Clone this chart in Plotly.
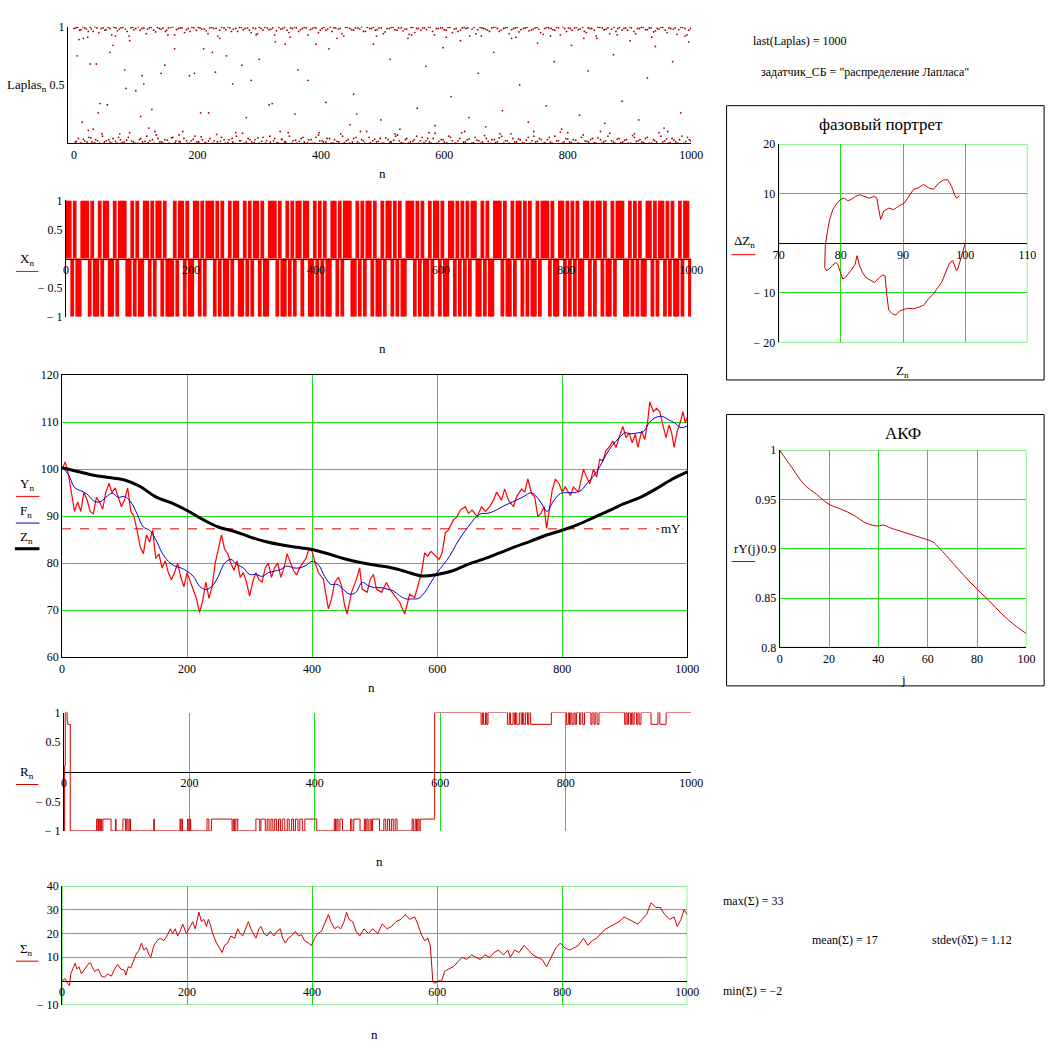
import plotly.graph_objects as go

W, H = 1062, 1055

laplas_top = [(3, .99), (9, .97), (14, 1.0), (20, .98), (26, .995), (31, .96), (37, .99), (44, .985), (50, .97), (55, .995),
              (61, .93), (68, .99), (73, .98), (79, .995), (86, .96), (92, .99), (97, .975), (104, 1.0), (110, .985), (117, .94),
              (122, .99), (129, .97), (135, .995), (141, .98), (148, .96), (153, .99), (160, 1.0), (166, .975), (172, .99), (179, .95),
              (185, .985), (191, .995), (198, .97), (204, .99), (211, .98), (217, .94), (223, .995), (230, .985), (236, .97), (243, .99),
              (249, 1.0), (255, .96), (262, .985), (268, .995), (274, .975), (281, .99), (287, .95), (294, .985), (300, .995), (306, .97),
              (313, .99), (319, .98), (325, .93), (332, .995), (338, .985), (345, .97), (351, .99), (357, 1.0), (364, .96), (370, .985),
              (376, .99), (383, .975), (389, .995), (396, .95), (402, .985), (408, .97), (415, .995), (421, .99), (428, .98), (434, .94),
              (440, .995), (447, .985), (453, .97), (460, .99), (466, 1.0), (472, .96), (479, .985), (485, .995), (491, .975), (498, .99),
              (504, .955), (511, .985), (517, .995), (523, .97), (530, .99), (536, .98), (543, .935), (549, .995), (555, .985), (562, .97),
              (568, .99), (574, 1.0), (581, .96), (587, .985), (594, .99), (600, .975), (606, .995), (613, .95), (619, .985), (626, .97),
              (632, .995), (638, .99), (645, .98), (651, .94), (658, .995), (664, .985), (670, .97), (677, .99), (683, 1.0), (689, .96),
              (696, .985), (702, .995), (709, .975), (715, .99), (721, .955), (728, .985), (734, .995), (741, .97), (747, .99), (753, .98),
              (760, .935), (766, .995), (773, .985), (779, .97), (785, .99), (792, 1.0), (798, .96), (804, .985), (811, .99), (817, .975),
              (824, .995), (830, .95), (836, .985), (843, .97), (849, .995), (856, .99), (862, .98), (868, .94), (875, .995), (881, .985),
              (888, .97), (894, .99), (900, 1.0), (907, .96), (913, .985), (919, .995), (926, .975), (932, .99), (939, .955), (945, .985),
              (951, .995), (958, .97), (964, .99), (971, .98), (977, .935), (983, .995), (990, .985), (996, .97)]
laplas_top2 = [(0, .985), (6, .995), (11, .975), (17, .99), (23, .96), (28, .98), (34, 1.0), (40, .95), (47, .99), (52, .975),
               (58, .985), (65, .995), (70, .965), (76, .99), (83, .98), (89, .92), (95, .995), (100, .985), (107, .97), (113, .99),
               (119, .98), (125, .995), (132, .955), (138, .985), (144, .99), (150, .97), (157, .995), (163, .93), (169, .985), (175, .99),
               (182, .975), (188, .96), (194, .99), (201, .995), (207, .98), (214, .965), (220, .99), (226, .985), (233, .92), (239, .995),
               (246, .975), (252, .99), (258, .98), (265, .96), (271, .995), (277, .985), (284, .97), (290, .99), (297, .94), (303, .985),
               (309, .995), (316, .975), (322, .99), (328, .965), (335, .98), (341, .995), (348, .95), (354, .985), (360, .99), (367, .975),
               (373, .995), (379, .93), (386, .985), (392, .99), (399, .97), (405, .995), (411, .98), (418, .96), (424, .99), (431, .985),
               (437, .92), (443, .995), (450, .975), (456, .99), (463, .98), (469, .96), (475, .995), (482, .985), (488, .97), (494, .99),
               (501, .94), (507, .985), (514, .995), (520, .975), (526, .99), (533, .965), (539, .98), (546, .995), (552, .95), (558, .985),
               (565, .99), (571, .975), (577, .995), (584, .93), (590, .985), (597, .99), (603, .97), (609, .995), (616, .98), (622, .96),
               (629, .99), (635, .985), (641, .92), (648, .995), (654, .975), (661, .99), (667, .98), (673, .96), (680, .995), (686, .985),
               (692, .97), (699, .99), (705, .94), (712, .985), (718, .995), (724, .975), (731, .99), (737, .965), (744, .98), (750, .995),
               (756, .95), (763, .985), (769, .99), (776, .975), (782, .995), (788, .93), (795, .985), (801, .99), (807, .97), (814, .995),
               (820, .98), (827, .96), (833, .99), (839, .985), (846, .92), (852, .995), (859, .975), (865, .99), (871, .98), (878, .96),
               (884, .995), (891, .985), (897, .97), (903, .99), (910, .94), (916, .985), (922, .995), (929, .975), (935, .99), (942, .965),
               (948, .98), (954, .995), (961, .95), (967, .985), (974, .99), (980, .975), (986, .995), (993, .93), (999, .985)]
laplas_bottom = [(2, .01), (7, .04), (12, .0), (17, .02), (24, .05), (29, .01), (35, .03), (41, .0), (46, .06), (52, .02),
                 (58, .01), (63, .04), (70, .0), (75, .03), (81, .01), (88, .05), (93, .02), (99, .0), (106, .03), (111, .01),
                 (118, .06), (123, .02), (130, .0), (136, .04), (142, .01), (147, .03), (154, .0), (160, .05), (165, .02), (172, .01),
                 (178, .04), (184, .0), (190, .02), (196, .06), (202, .01), (208, .03), (214, .0), (220, .04), (227, .02), (232, .01),
                 (239, .05), (245, .0), (251, .03), (257, .01), (263, .06), (270, .02), (275, .0), (282, .04), (288, .01), (293, .03),
                 (300, .0), (306, .05), (312, .02), (318, .01), (325, .04), (331, .0), (337, .03), (343, .01), (349, .06), (355, .02),
                 (361, .0), (368, .04), (373, .01), (380, .03), (386, .0), (392, .05), (398, .02), (404, .01), (410, .04), (417, .0),
                 (422, .03), (429, .01), (435, .06), (441, .02), (447, .0), (453, .04), (459, .01), (466, .03), (471, .0), (478, .05),
                 (484, .02), (490, .01), (496, .04), (502, .0), (509, .03), (514, .01), (521, .06), (527, .02), (533, .0), (539, .04),
                 (545, .01), (551, .03), (558, .0), (564, .05), (570, .02), (576, .01), (582, .04), (588, .0), (595, .03), (600, .01),
                 (607, .06), (613, .02), (619, .0), (625, .04), (631, .01), (637, .03), (644, .0), (650, .05), (656, .02), (662, .01),
                 (668, .04), (674, .0), (681, .03), (686, .01), (693, .06), (699, .02), (705, .0), (711, .04), (717, .01), (723, .03),
                 (730, .0), (736, .05), (742, .02), (748, .01), (754, .04), (760, .0), (767, .03), (772, .01), (779, .06), (785, .02),
                 (791, .0), (797, .04), (803, .01), (809, .03), (816, .0), (822, .05), (828, .02), (834, .01), (840, .04), (846, .0),
                 (853, .03), (858, .01), (865, .06), (871, .02), (877, .0), (883, .04), (889, .01), (895, .03), (902, .0), (908, .05),
                 (914, .02), (920, .01), (926, .04), (932, .0), (939, .03), (944, .01), (951, .06), (957, .02), (963, .0), (969, .04),
                 (975, .01), (981, .03), (988, .0), (994, .05), (999, .02)]
laplas_bottom2 = [(4, .015), (10, .0), (15, .035), (21, .01), (27, .045), (33, .005), (38, .02), (45, .08), (49, .01), (56, .03),
                  (61, .0), (67, .015), (72, .05), (78, .005), (85, .025), (90, .09), (96, .01), (103, .0), (108, .04), (115, .015),
                  (120, .005), (127, .03), (133, .07), (139, .01), (145, .0), (151, .025), (158, .045), (164, .005), (170, .015), (176, .1),
                  (182, .02), (187, .0), (193, .035), (199, .01), (206, .055), (212, .005), (218, .02), (225, .0), (231, .075), (237, .015),
                  (243, .03), (249, .005), (256, .04), (261, .0), (268, .02), (273, .085), (279, .01), (285, .03), (292, .005), (298, .045),
                  (304, .015), (310, .0), (317, .06), (323, .02), (329, .005), (336, .035), (341, .01), (347, .09), (353, .0), (359, .025),
                  (365, .015), (371, .05), (378, .005), (384, .03), (390, .0), (396, .07), (402, .02), (408, .01), (414, .04), (420, .0),
                  (426, .015), (432, .08), (438, .005), (444, .03), (451, .01), (457, .05), (462, .0), (469, .02), (474, .1), (480, .005),
                  (487, .035), (493, .015), (499, .0), (505, .045), (512, .01), (518, .025), (524, .07), (530, .005), (537, .03), (542, .0),
                  (549, .015), (555, .06), (561, .02), (567, .005), (573, .04), (579, .0), (585, .085), (591, .015), (598, .03), (604, .005),
                  (610, .05), (617, .0), (622, .02), (628, .09), (634, .01), (640, .035), (647, .005), (653, .025), (659, .0), (665, .065),
                  (671, .015), (677, .03), (683, .005), (689, .045), (696, .0), (702, .02), (708, .08), (714, .01), (720, .035), (727, .005),
                  (733, .025), (739, .0), (745, .06), (751, .015), (757, .03), (763, .005), (770, .05), (775, .0), (782, .02), (788, .095),
                  (794, .01), (800, .035), (806, .005), (813, .025), (818, .0), (825, .07), (831, .015), (837, .03), (843, .005), (849, .045),
                  (855, .0), (861, .02), (868, .085), (874, .01), (880, .035), (886, .005), (892, .025), (898, .0), (905, .065), (911, .015),
                  (917, .03), (923, .005), (929, .05), (936, .0), (941, .02), (948, .09), (954, .01), (960, .035), (966, .005), (972, .025),
                  (978, .0), (985, .06), (991, .015), (997, .03)]
laplas_mid = [(5, .75), (8, .89), (13, .18), (22, .91), (23, .11), (26, .68), (36, .68), (39, .26), (42, .34), (54, .33),
              (58, .78), (63, .84), (82, .63), (84, .47), (100, .45), (108, .23), (110, .58), (113, .51), (121, .13), (126, .29),
              (141, .60), (147, .67), (163, .81), (187, .58), (195, .60), (205, .26), (210, .81), (218, .26), (224, .78), (229, .61),
              (247, .75), (257, .51), (272, .67), (279, .22), (287, .54), (300, .72), (316, .33), (321, .34), (326, .87), (342, .85),
              (358, .25), (363, .63), (379, .54), (392, .85), (408, .35), (413, .81), (447, .16), (453, .42), (458, .25), (485, .85),
              (497, .2), (512, .72), (528, .12), (541, .9), (556, .3), (570, .66), (585, .15), (598, .82), (611, .4), (626, .88),
              (640, .22), (655, .6), (667, .14), (680, .78), (694, .28), (709, .9), (722, .5), (736, .18), (751, .86), (765, .32),
              (778, .7), (790, .12), (806, .84), (819, .24), (833, .62), (847, .9), (860, .17), (874, .76), (888, .36), (901, .88),
              (915, .2), (929, .56), (942, .83), (956, .13), (970, .7), (983, .26), (996, .87), (15, .9), (31, .12), (67, .92),
              (74, .08), (90, .88), (131, .1), (152, .93), (170, .07), (236, .9), (262, .09), (295, .93), (334, .1), (350, .91),
              (397, .09), (426, .9), (464, .1), (490, .92), (520, .08), (547, .93), (575, .09), (603, .91), (633, .1), (660, .92),
              (690, .08), (716, .91), (745, .1), (772, .92), (800, .09), (826, .9), (853, .1), (880, .93), (908, .08), (936, .91),
              (962, .1), (990, .92)]

x_signs = ("++-+--+++-+--+-++--+-+++--+-+--++-+-++-+---+-++-+-"
           "-++-+-+++-+-+--+-++--+-+-++-+--+++-+--+-+-++-++--+"
           "-+-+--++-+-+++--+-+-++-+--+-++-+-+--+++-+-+--+-++-"
           "+--++-+-+-+-++--+-+--+++-+--+-++-+-+--+-+++-+--++-"
           "+-+-+--++-+-++-+--+-+++--+-+-+--++-+-++-+-+--+-++-")

y_series = [(0, 100), (5, 101.5), (10, 99), (15, 95), (20, 91), (25, 93), (30, 91), (35, 95), (40, 93.5), (45, 91),
            (50, 90.5), (55, 94), (60, 93), (65, 91.5), (70, 95), (75, 97), (80, 95), (85, 96), (90, 94), (95, 92),
            (100, 93.5), (105, 96), (110, 91), (115, 90), (120, 87), (125, 83.5), (130, 82), (135, 86), (140, 84.5), (145, 87),
            (150, 81), (155, 82), (160, 79), (165, 80.5), (170, 78), (175, 76.5), (180, 78), (185, 80), (190, 77), (195, 75),
            (200, 78), (205, 76), (210, 74.5), (215, 72.5), (220, 69.5), (225, 72), (230, 76), (235, 72.5), (240, 75), (245, 80),
            (250, 83), (255, 86), (260, 83), (265, 82), (270, 80), (275, 78.5), (280, 80.5), (285, 77), (290, 78), (295, 76),
            (300, 73), (305, 76), (310, 78), (315, 76.5), (320, 76), (325, 79), (330, 80), (335, 77), (340, 79), (345, 80),
            (350, 77), (355, 79), (360, 82), (365, 80), (370, 78.5), (375, 77.5), (380, 79), (385, 80), (390, 81), (395, 83),
            (400, 82.5), (405, 80), (410, 78), (418, 76.6), (426, 70.3), (431, 72.4), (436, 75.9), (442, 77), (447, 75.2), (452, 71),
            (456, 69.2), (463, 73.8), (471, 76.6), (476, 79), (480, 74.5), (488, 73.8), (493, 76.6), (498, 77.6), (503, 74.5), (511, 73.8),
            (519, 75.9), (524, 74.5), (532, 73), (540, 71.7), (548, 69.2), (556, 73.4), (564, 72.7), (569, 75.2), (575, 78), (580, 82.2),
            (585, 81.5), (590, 82.5), (598, 81.5), (603, 80.8), (608, 82.2), (613, 86.4), (618, 87.1), (626, 89.2), (632, 89.9), (637, 91.3),
            (645, 92), (650, 90.6), (656, 91.3), (664, 89.9), (671, 92), (677, 91), (684, 92), (690, 93.4), (695, 95.1), (703, 93.4),
            (708, 95.8), (714, 93.4), (722, 92), (727, 94.1), (735, 95.8), (740, 95.1), (745, 97.9), (751, 94.8), (756, 94.1), (761, 89.9),
            (766, 90.6), (771, 92), (775, 87.4), (779, 91.3), (784, 95.5), (789, 97.9), (795, 96.9), (800, 95.1), (805, 96.2), (813, 94.4),
            (818, 96.2), (826, 95.1), (834, 100), (839, 98.3), (844, 96.9), (850, 100), (855, 98.3), (860, 102.1), (865, 101.8), (870, 103.9),
            (876, 104.9), (881, 106), (886, 104.6), (891, 106.7), (897, 109.1), (902, 106.7), (907, 107.7), (912, 105.6), (917, 107.4), (921, 104.6),
            (927, 108.1), (932, 106.3), (937, 110.5), (940, 114.3), (946, 112.2), (951, 112.9), (956, 112.2), (961, 109.4), (966, 106.7), (971, 109.4),
            (975, 107.7), (979, 104.6), (984, 108.1), (990, 110.5), (993, 112.2), (997, 109.8), (1000, 111)]

f_series = [(0, 100.4), (10, 98.9), (20, 96.1), (30, 95.4), (40, 94.7), (50, 93.3), (60, 93), (70, 94), (80, 94.9), (90, 94),
            (100, 94.2), (110, 93), (120, 90.5), (130, 87.7), (140, 87), (150, 85), (160, 82.2), (170, 80.4), (180, 79.4), (190, 79),
            (200, 78.3), (210, 77.2), (220, 75.1), (230, 74.4), (240, 75.1), (250, 77.2), (260, 80), (270, 80.8), (280, 79.7), (290, 79),
            (300, 77.6), (310, 77.6), (320, 77.2), (330, 78), (340, 78.3), (350, 78.7), (360, 79.4), (370, 79), (380, 79), (390, 79.5),
            (400, 80.4), (410, 79.7), (420, 77.2), (430, 75.5), (440, 75.5), (450, 74.4), (460, 73.4), (470, 73.8), (480, 75.9), (490, 75.2),
            (500, 74.8), (510, 74.8), (520, 74.5), (530, 74.1), (540, 73.1), (550, 72.4), (560, 72.4), (570, 72.5), (580, 73.8), (590, 75.9),
            (600, 78), (610, 79.7), (620, 81.5), (630, 83.9), (640, 86), (650, 87.8), (660, 89.5), (670, 90.5), (680, 90.6), (690, 91),
            (700, 91.7), (710, 92.4), (720, 93), (730, 93.6), (740, 94.3), (750, 95), (760, 94), (770, 92), (776, 91), (785, 93),
            (797, 94.8), (810, 95), (820, 95), (830, 95.5), (840, 97), (850, 98.5), (860, 100.5), (870, 103), (880, 105), (890, 106.5),
            (900, 107.7), (910, 107.5), (920, 107.7), (930, 108), (940, 110), (950, 111), (960, 111.2), (970, 110.5), (980, 109.8), (990, 108.8),
            (1000, 109.2)]

z_series = [(0, 100.3), (25, 99.5), (50, 98.7), (75, 98.2), (100, 97.7), (125, 96.3), (150, 94.1), (175, 92.8), (200, 91.2), (225, 89.3),
            (250, 87.7), (275, 86.8), (300, 85.6), (325, 84.6), (350, 83.9), (375, 83.4), (400, 82.9), (425, 82), (450, 81), (475, 80.2),
            (500, 79.6), (525, 79.1), (550, 78.2), (575, 77.3), (600, 77.6), (625, 78.4), (650, 79.8), (675, 80.9), (700, 82.2), (725, 83.5),
            (750, 84.7), (775, 86), (800, 87), (825, 88.2), (850, 89.7), (875, 91.2), (900, 92.7), (925, 94), (950, 95.8), (975, 97.8),
            (1000, 99.4)]
mY = 87.3

r_steps = [(0, -1), (1, 0.1), (2, 1), (5, 0.85), (6, 0.8), (10, -1),
           (52, -0.8), (54, -1), (55, -0.8), (57, -1), (58, -0.8), (60, -1), (62, -0.8), (75, -1),
           (82, -0.8), (83, -1), (94, -0.8), (98, -1), (100, -0.8), (102, -1), (104, -0.8), (106, -1),
           (143, -0.8), (144, -1), (185, -0.8), (186, -1), (188, -0.8), (189, -1),
           (197, -0.8), (199, -1), (201, -0.8), (202, -1), (228, -0.8), (231, -1), (235, -0.8), (268, -1),
           (270, -0.8), (272, -1), (274, -0.8), (277, -1),
           (306, -0.8), (312, -1), (314, -0.8), (321, -1), (324, -0.8), (327, -1), (330, -0.8), (333, -1),
           (336, -0.8), (339, -1), (342, -0.8), (345, -1), (348, -0.8), (352, -1), (356, -0.8), (359, -1),
           (363, -0.8), (366, -1), (369, -0.8), (373, -1), (376, -0.8), (380, -1), (384, -0.8), (403, -1),
           (431, -0.8), (433, -1), (435, -0.8), (437, -1), (440, -0.8), (444, -1),
           (457, -0.8), (459, -1), (462, -0.8), (472, -1),
           (479, -0.8), (481, -1), (483, -0.8), (485, -1), (488, -0.8), (490, -1), (492, -0.8), (503, -1),
           (510, -0.8), (513, -1), (516, -0.8), (519, -1), (522, -0.8), (525, -1), (528, -0.8), (531, -1),
           (555, -0.8), (557, -1), (560, -0.8), (562, -1), (564, -0.8), (566, -1), (568, -0.8), (591, 1),
           (665, 0.8), (667, 1), (669, 0.8), (672, 1), (674, 0.8), (676, 1),
           (707, 0.8), (710, 1), (712, 0.8), (716, 1), (718, 0.8), (720, 1), (722, 0.8), (726, 1),
           (729, 0.8), (731, 1), (733, 0.8), (736, 1), (739, 0.8), (741, 1), (744, 0.8), (777, 1),
           (801, 0.8), (804, 1), (806, 0.8), (808, 1), (810, 0.8), (813, 1), (815, 0.8), (817, 1),
           (822, 0.8), (824, 1), (827, 0.8), (830, 1),
           (840, 0.8), (842, 1), (845, 0.8), (847, 1), (850, 0.8), (853, 1),
           (894, 0.8), (896, 1), (898, 0.8), (900, 1), (903, 0.8), (905, 1), (907, 0.8), (909, 1),
           (913, 0.8), (915, 1), (917, 0.8), (920, 1),
           (936, 0.8), (947, 1), (950, 0.8), (960, 1), (1000, 1)]

sigma = [(0, 0), (5, 1), (9, -1), (12, -2), (14, 3), (21, 7.5), (24, 5), (27, 6), (31, 3), (36, 5), (39, 6), (43, 7.5),
         (46, 7.5), (48, 6), (52, 4), (58, 5), (63, 2), (68, 1.5), (73, 3), (79, 2), (84, 5), (89, 7), (94, 5), (100, 4.5),
         (102, 2.5), (106, 6), (110, 5.5), (114, 8), (118, 11), (123, 13), (127, 16), (131, 13), (135, 14), (139, 11), (142, 10),
         (147, 15), (152, 17), (157, 18), (163, 17), (168, 19), (173, 22), (177, 20), (181, 22), (185, 19), (189, 21), (193, 24),
         (197, 21), (199, 20), (205, 23), (209, 25), (213, 22), (216, 26), (219, 29), (223, 25), (227, 26), (231, 23), (234, 26),
         (237, 24), (241, 20), (247, 16), (252, 14), (256, 12), (260, 15), (265, 16), (270, 19), (276, 18), (281, 22), (285, 20),
         (289, 19), (294, 22), (298, 25), (302, 22), (306, 20), (310, 18), (315, 22), (318, 23), (323, 20), (328, 19), (333, 21),
         (339, 19), (344, 21), (349, 22), (353, 18), (357, 16), (362, 18), (367, 19), (373, 21), (378, 19), (383, 19.5), (388, 17),
         (394, 16), (399, 15), (404, 18), (409, 20), (415, 21), (420, 24), (423, 26), (426, 28), (430, 25), (436, 22), (441, 23),
         (446, 22), (451, 25), (455, 29), (459, 26), (465, 25), (470, 21), (476, 19), (483, 22), (490, 20), (497, 22), (505, 20),
         (512, 24), (520, 22), (527, 23), (534, 25), (542, 26), (549, 28), (556, 26), (564, 27), (569, 24), (574, 20), (580, 17),
         (585, 18), (589, 15), (591, 5), (593, 0), (596, -1), (602, 0), (607, 0), (612, 4), (618, 5), (626, 6), (633, 8), (640, 10),
         (647, 9), (655, 11), (662, 10), (669, 9), (676, 11), (684, 10), (691, 12), (698, 13), (706, 11), (713, 13), (717, 10),
         (724, 13), (731, 12), (739, 15), (746, 13), (753, 11), (760, 10), (768, 9), (775, 6), (782, 10), (790, 14), (797, 16),
         (804, 14), (812, 13), (819, 14), (826, 15), (834, 18), (841, 15), (848, 17), (855, 18), (862, 20), (870, 22), (877, 23),
         (884, 24), (891, 25), (899, 27), (906, 26), (913, 25), (921, 24), (928, 26), (935, 28), (942, 33), (950, 31), (957, 31),
         (964, 28), (972, 26), (979, 27), (984, 23), (990, 26), (995, 30), (1000, 28)]

phase = [(100, 0), (99.6, -1.9), (99.3, -3.2), (98.8, -5.2), (98.6, -5.5), (98.3, -4.5), (98, -3.5), (97.5, -3.9), (97.1, -5.2),
         (96.7, -6.5), (96.2, -7.9), (95.6, -8.9), (94.9, -10.2), (94.1, -11.2), (93.3, -12.5), (92.5, -12.9), (91.7, -13.2),
         (90.9, -13.1), (90.2, -13.3), (89.4, -13.7), (88.8, -14.5), (88.3, -14.2), (87.7, -13.5), (87.4, -10.5), (87.1, -6.5),
         (86.7, -6.4), (86.2, -6.9), (85.4, -7.9), (84.8, -7.5), (84.0, -6.9), (83.5, -5.9), (83, -4.5), (82.6, -2.5), (82.3, -4.2),
         (81.8, -5.2), (81.3, -5.9), (80.7, -6.9), (80.3, -7.2), (80, -5.9), (79.5, -4.2), (79.2, -3.9), (78.6, -4.5), (78.1, -5.2),
         (77.7, -5.5), (77.4, -4.9), (77.5, -0.5), (77.8, 2.1), (78.2, 4.8), (78.7, 6.8), (79.4, 8.1), (80, 8.9), (80.6, 9.1),
         (81.1, 8.6), (81.6, 8.8), (82.4, 9.5), (83, 9.8), (83.7, 9.5), (84.6, 9.1), (85.3, 9.5), (85.8, 9.1), (86, 7.5), (86.4, 4.8),
         (86.9, 6.5), (87.7, 7.1), (88.5, 6.8), (89.3, 7.5), (90.2, 8.1), (90.9, 9.5), (91.7, 10.9), (92.5, 11.2), (93.3, 11.9),
         (94.1, 11.2), (94.9, 10.9), (95.7, 12.1), (96.5, 12.8), (97.2, 12.8), (97.8, 11.5), (98.3, 9.8), (98.6, 9.1), (99.1, 9.6)]

acf_j = [0, 5, 10, 15, 20, 25, 30, 35, 40, 42, 45, 50, 55, 60, 62, 65, 70, 75, 80, 85, 90, 95, 100]
acf_r = [1.0, 0.982, 0.965, 0.955, 0.945, 0.940, 0.934, 0.926, 0.923, 0.924, 0.921, 0.917, 0.913, 0.909, 0.907, 0.900,
         0.886, 0.872, 0.859, 0.847, 0.834, 0.823, 0.814]

n_ticks = [0, 200, 400, 600, 800, 1000]

RED = '#ff0000'
DRED = '#d00000'
GREEN = '#1ee01e'
FONT = '"Liberation Serif", "Times New Roman", "DejaVu Serif", serif'


def px(x):
    # page pixel -> paper fraction
    return x / W


def py(y):
    return 1 - y / H


def unzip(pairs):
    return [p[0] for p in pairs], [p[1] for p in pairs]


def ax(domain, rng, **kw):
    d = dict(domain=domain, range=rng, showline=True, linecolor='black', linewidth=1,
             showgrid=False, zeroline=False, ticks='', fixedrange=True,
             tickfont=dict(family=FONT, size=12, color='black'))
    d.update(kw)
    return d


fig = go.Figure()

# Laplas scatter
for pts in (laplas_top, laplas_top2, laplas_bottom, laplas_bottom2, laplas_mid):
    xs, ys = unzip(pts)
    fig.add_trace(go.Scatter(x=xs, y=ys, mode='markers', marker=dict(size=1.8, color='#a80000'),
                             xaxis='x', yaxis='y'))

# X_n bars (slightly overlapping, as Mathcad's 1px bar lines do)
step = 1000 / len(x_signs)
fig.add_trace(go.Bar(x=[(i + 0.5) * step for i in range(len(x_signs))],
                     y=[1 if c == '+' else -1 for c in x_signs],
                     width=step * 1.5, marker=dict(color=RED, line=dict(width=0)),
                     xaxis='x2', yaxis='y2'))

# Y, F, Z, mY
fig.add_trace(go.Scatter(x=[0, 1000], y=[mY, mY], mode='lines',
                         line=dict(color='#d00000', width=1, dash='dash'), xaxis='x3', yaxis='y3'))
xs, ys = unzip(y_series)
fig.add_trace(go.Scatter(x=xs, y=ys, mode='lines', line=dict(color=RED, width=1.2), xaxis='x3', yaxis='y3'))
xs, ys = unzip(f_series)
fig.add_trace(go.Scatter(x=xs, y=ys, mode='lines', line=dict(color='#0000c8', width=1, shape='spline'),
                         xaxis='x3', yaxis='y3'))
xs, ys = unzip(z_series)
fig.add_trace(go.Scatter(x=xs, y=ys, mode='lines', line=dict(color='black', width=3, shape='spline'),
                         xaxis='x3', yaxis='y3'))

# R_n
xs, ys = unzip(r_steps)
fig.add_trace(go.Scatter(x=xs, y=ys, mode='lines', line=dict(color=DRED, width=1, shape='hv'),
                         xaxis='x4', yaxis='y4'))

# Sigma_n
xs, ys = unzip(sigma)
fig.add_trace(go.Scatter(x=xs, y=ys, mode='lines', line=dict(color=DRED, width=1), xaxis='x5', yaxis='y5'))

# phase portrait
xs, ys = unzip(phase)
fig.add_trace(go.Scatter(x=xs, y=ys, mode='lines', line=dict(color='#c80000', width=1), xaxis='x6', yaxis='y6'))

# ACF
fig.add_trace(go.Scatter(x=acf_j, y=acf_r, mode='lines', line=dict(color='#c80000', width=1, shape='spline'),
                         xaxis='x7', yaxis='y7'))

m1 = ['− 1', '− 0.5', '0.5', '1']
fig.update_layout(
    width=W, height=H, margin=dict(l=0, r=0, t=0, b=0),
    paper_bgcolor='white', plot_bgcolor='white', showlegend=False,
    font=dict(family=FONT, size=12, color='black'),
    xaxis=ax([px(63), px(697)], [-10, 1000], anchor='y', tickvals=n_ticks),
    yaxis=ax([py(138), py(20)], [0, 1], anchor='x', tickvals=[0.5, 1], ticktext=['0.5', '1']),
    xaxis2=ax([px(61), px(697)], [0, 1000], anchor='free', position=py(255), tickvals=n_ticks),
    yaxis2=ax([py(314), py(196)], [-1, 1], anchor='x2', tickvals=[-1, -0.5, 0.5, 1], ticktext=m1),
    xaxis3=ax([px(57), px(693)], [0, 1000], anchor='y3', mirror=True, showgrid=True, gridcolor=GREEN,
              tickvals=n_ticks),
    yaxis3=ax([py(659), py(373)], [60, 120], anchor='x3', mirror=True, showgrid=True, gridcolor=GREEN,
              tickvals=[60, 70, 80, 90, 100, 110, 120]),
    xaxis4=ax([px(59), px(697)], [0, 1000], anchor='free', position=py(775), showgrid=True, gridcolor=GREEN,
              tickvals=n_ticks),
    yaxis4=ax([py(835), py(715)], [-1, 1], anchor='x4', tickvals=[-1, -0.5, 0.5, 1], ticktext=m1),
    xaxis5=ax([px(57), px(693)], [0, 1000], anchor='free', position=py(987), showgrid=True, gridcolor=GREEN,
              tickvals=n_ticks),
    yaxis5=ax([py(1011), py(891)], [-10, 40], anchor='x5', showgrid=True, gridcolor=GREEN,
              tickvals=[-10, 10, 20, 30, 40], ticktext=['− 10', '10', '20', '30', '40']),
    xaxis6=ax([px(786), px(1039)], [70, 110], anchor='free', position=py(239.5), showgrid=True, gridcolor=GREEN,
              tickvals=[70, 80, 90, 100, 110]),
    yaxis6=ax([py(340), py(139)], [-20, 20], anchor='x6', showgrid=True, gridcolor=GREEN,
              tickvals=[-20, -10, 10, 20], ticktext=['− 20', '− 10', '10', '20']),
    xaxis7=ax([px(787), px(1038)], [0, 100], anchor='y7', showgrid=True, gridcolor=GREEN,
              tickvals=[0, 20, 40, 60, 80, 100]),
    yaxis7=ax([py(649), py(449)], [0.8, 1], anchor='x7', showgrid=True, gridcolor=GREEN,
              tickvals=[0.8, 0.85, 0.9, 0.95, 1], ticktext=['0.8', '0.85', '0.9', '0.95', '1']),
)

shapes = []
# green frames
for xr, yr, x0, x1, y0, y1 in [('x5', 'y5', 0, 1000, -10, 40), ('x6', 'y6', 70, 110, -20, 20),
                               ('x7', 'y7', 0, 100, 0.8, 1)]:
    shapes.append(dict(type='rect', xref=xr, yref=yr, x0=x0, x1=x1, y0=y0, y1=y1,
                       line=dict(color=GREEN, width=1), layer='below'))
# outer boxes of the right-hand graphs
for x0, y0, x1, y1 in [(733, 100, 1056, 378), (733, 413, 1056, 688)]:
    shapes.append(dict(type='rect', xref='paper', yref='paper', x0=px(x0), x1=px(x1), y0=py(y1), y1=py(y0),
                       line=dict(color='black', width=1)))
# legend line samples under the y labels
for x0, x1, yy, col, w in [(10, 33, 268, RED, 1), (10, 34, 496, RED, 1), (10, 34, 523, '#0000c8', 1),
                           (9, 34, 549, 'black', 3), (10, 33, 788, DRED, 1), (10, 33, 967, DRED, 1),
                           (738, 762, 251, DRED, 1), (738, 762, 562, DRED, 1)]:
    shapes.append(dict(type='line', xref='paper', yref='paper', x0=px(x0), x1=px(x1), y0=py(yy), y1=py(yy),
                       line=dict(color=col, width=w)))
fig.update_layout(shapes=shapes)

annots = [
    ('Laplas<sub>n</sub>', 44, 80, 13, 'right'),
    ('X<sub>n</sub>', 12, 256, 13, 'left'),
    ('n', 383, 169, 13, 'center'),
    ('n', 383, 346, 13, 'center'),
    ('Y<sub>n</sub>', 12, 484, 13, 'left'),
    ('F<sub>n</sub>', 12, 511, 13, 'left'),
    ('Z<sub>n</sub>', 12, 538, 13, 'left'),
    ('n', 372, 690, 13, 'center'),
    ('R<sub>n</sub>', 12, 776, 13, 'left'),
    ('n', 380, 866, 13, 'center'),
    ('Σ<sub>n</sub>', 12, 955, 13, 'left'),
    ('n', 375, 1041, 13, 'center'),
    ('фазовый портрет', 890, 119, 17, 'center'),
    ('ΔZ<sub>n</sub>', 739, 238, 13, 'left'),
    ('Z<sub>n</sub>', 912, 369, 13, 'center'),
    ('АКФ', 912, 432, 17, 'center'),
    ('rY(j)', 739, 549, 13, 'left'),
    ('j', 913, 682, 13, 'center'),
    ('last(Laplas) = 1000', 758, 34, 12, 'left'),
    ('задатчик_СБ = "распределение Лапласа"', 766, 66, 12, 'left'),
    ('max(Σ) = 33', 727, 906, 12, 'left'),
    ('mean(Σ) = 17', 818, 946, 12, 'left'),
    ('stdev(δΣ) = 1.12', 940, 946, 12, 'left'),
    ('min(Σ) = −2', 727, 997, 12, 'left'),
]
for text, x, y, size, anchor in annots:
    fig.add_annotation(text=text, x=px(x), y=py(y), xref='paper', yref='paper', showarrow=False,
                       xanchor=anchor, yanchor='middle', font=dict(family=FONT, size=size, color='black'))
fig.add_annotation(text='mY', x=993, y=mY, xref='x3', yref='y3', showarrow=False, xanchor='right',
                   yanchor='middle', bgcolor='white', font=dict(family=FONT, size=13, color='black'))

# no body margin and no scrollbars, so the 1062x1055 figure fills the window exactly
page_css = ("document.documentElement.style.margin='0';document.body.style.margin='0';"
            "document.documentElement.style.overflow='hidden';document.body.style.overflow='hidden';")
fig.write_html("out.html", config={'displayModeBar': False}, post_script=page_css)
